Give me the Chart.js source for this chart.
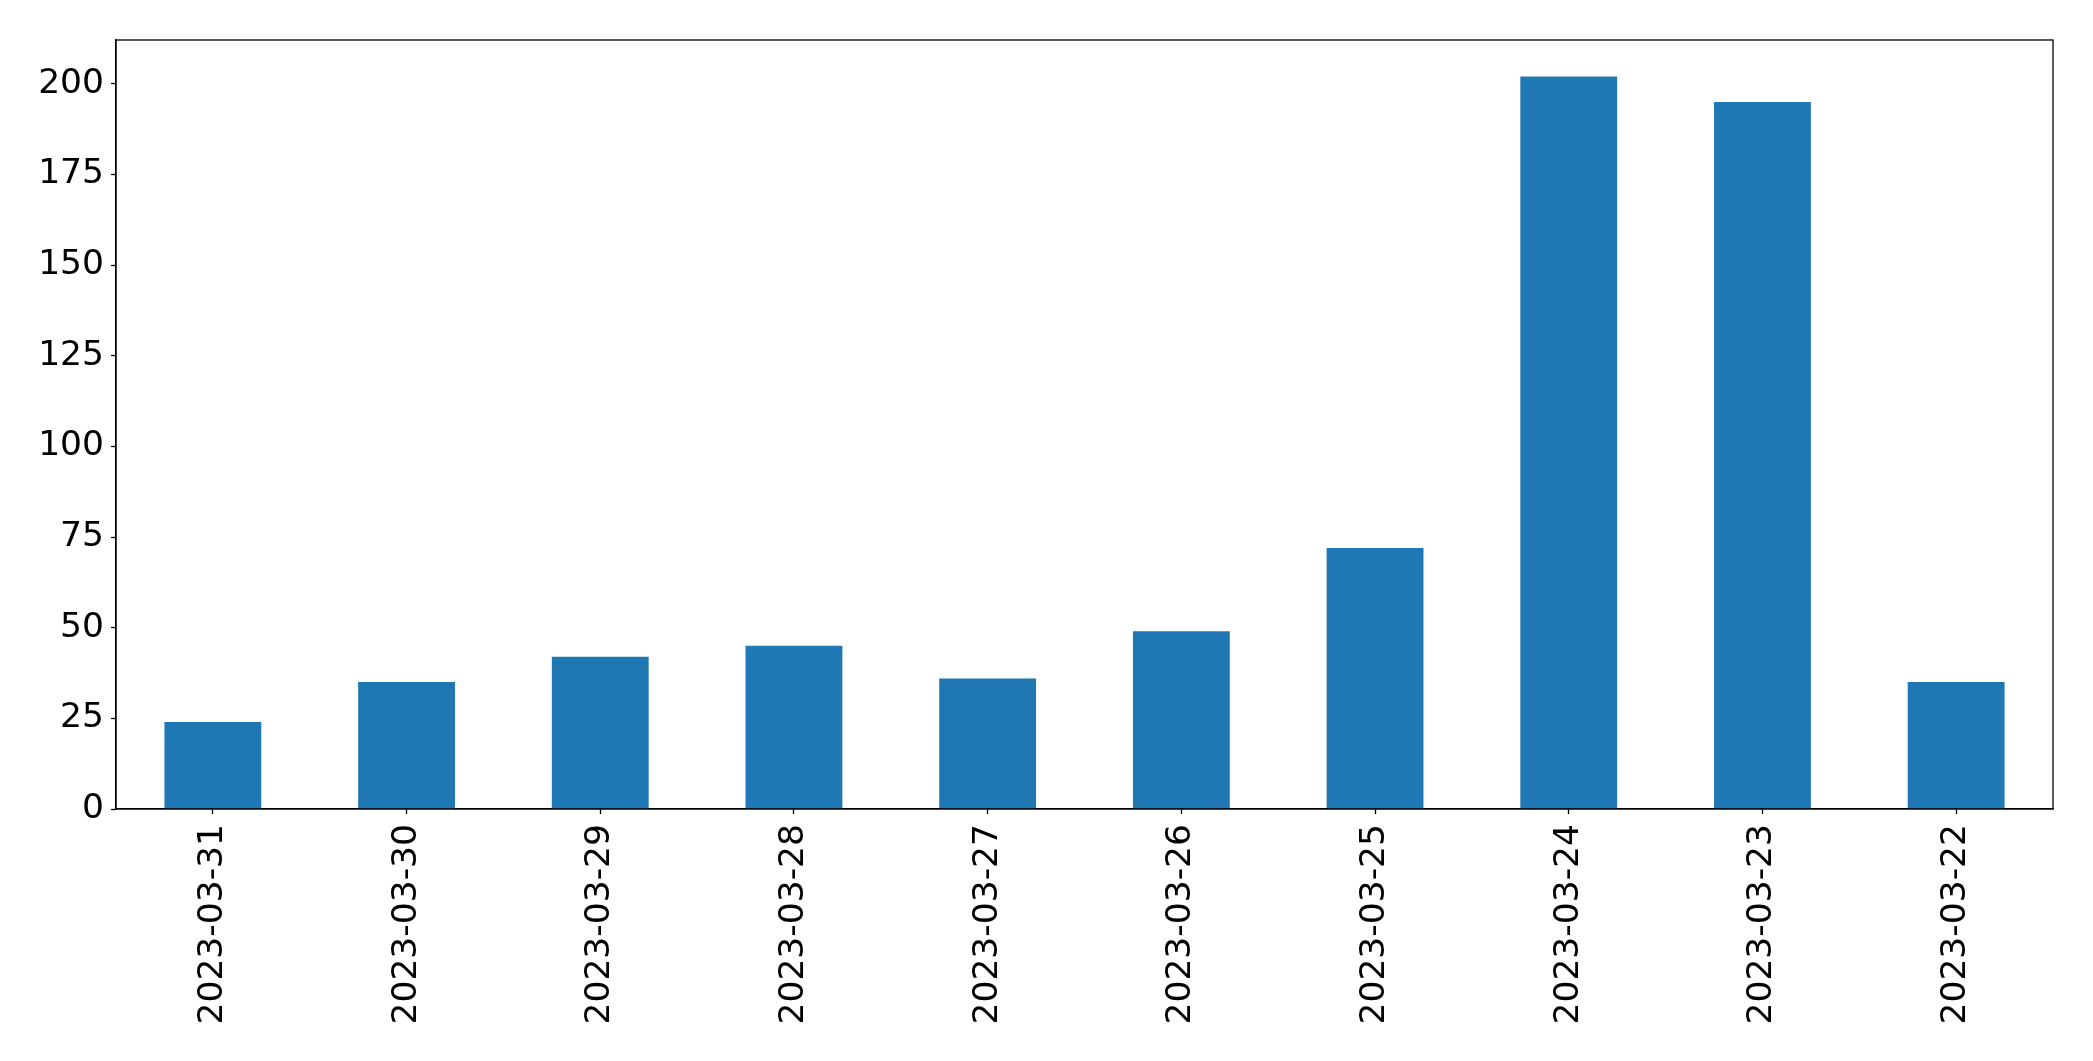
<!DOCTYPE html>
<html>
<head>
<meta charset="utf-8">
<script src="https://cdn.jsdelivr.net/npm/chart.js@4"></script>
<style>
  html, body { margin: 0; padding: 0; background: #fff; }
  #wrap { width: 2093px; height: 1061px; position: relative; }
</style>
</head>
<body>
<div id="wrap"><canvas id="chart1"></canvas></div>
<script>
// values
const dates = ['2023-03-31', '2023-03-30', '2023-03-29', '2023-03-28', '2023-03-27',
               '2023-03-26', '2023-03-25', '2023-03-24', '2023-03-23', '2023-03-22'];
const counts = [24, 35, 42, 45, 36, 49, 72, 202, 195, 35];
const yTicks = [0, 25, 50, 75, 100, 125, 150, 175, 200];

const fontSpec = { family: 'DejaVu Sans', size: 34.5 };

// box around the plot, like matplotlib's spines
const frame = {
  id: 'frame',
  afterDatasetsDraw(chart) {
    const a = chart.chartArea;
    const c = chart.ctx;
    c.save();
    c.strokeStyle = '#000';
    c.lineWidth = 1.3;
    c.strokeRect(a.left, a.top, a.right - a.left, a.bottom - a.top);
    c.restore();
  }
};

const ctx = document.getElementById('chart1');
new Chart(ctx, {
  type: 'bar',
  data: {
    labels: dates,
    datasets: [{
      data: counts,
      backgroundColor: '#1f77b4',
      borderWidth: 0,
      categoryPercentage: 1.0,
      barPercentage: 0.5
    }]
  },
  options: {
    responsive: true,
    maintainAspectRatio: false,
    animation: false,
    layout: { padding: { left: 0, top: 40, right: 40, bottom: 0 } },
    plugins: { legend: { display: false }, tooltip: { enabled: false } },
    scales: {
      x: {
        grid: { display: true, offset: false, drawOnChartArea: false, tickLength: 5, tickColor: '#000', tickWidth: 1.3 },
        border: { display: true, color: '#000', width: 1.3 },
        ticks: { color: '#000', font: fontSpec, maxRotation: 90, minRotation: 90, padding: 10, autoSkip: false },
        afterFit(scale) { scale.height = 252; }
      },
      y: {
        min: 0,
        max: Math.max(...counts) * 1.05,
        grid: { display: true, drawOnChartArea: false, tickLength: 5, tickColor: '#000', tickWidth: 1.3 },
        border: { display: true, color: '#000', width: 1.3 },
        ticks: { color: '#000', font: fontSpec, stepSize: 25, padding: 7 },
        afterBuildTicks(scale) { scale.ticks = yTicks.map(v => ({ value: v })); },
        afterFit(scale) { scale.width = 116; }
      }
    }
  },
  plugins: [frame]
});
</script>
</body>
</html>
